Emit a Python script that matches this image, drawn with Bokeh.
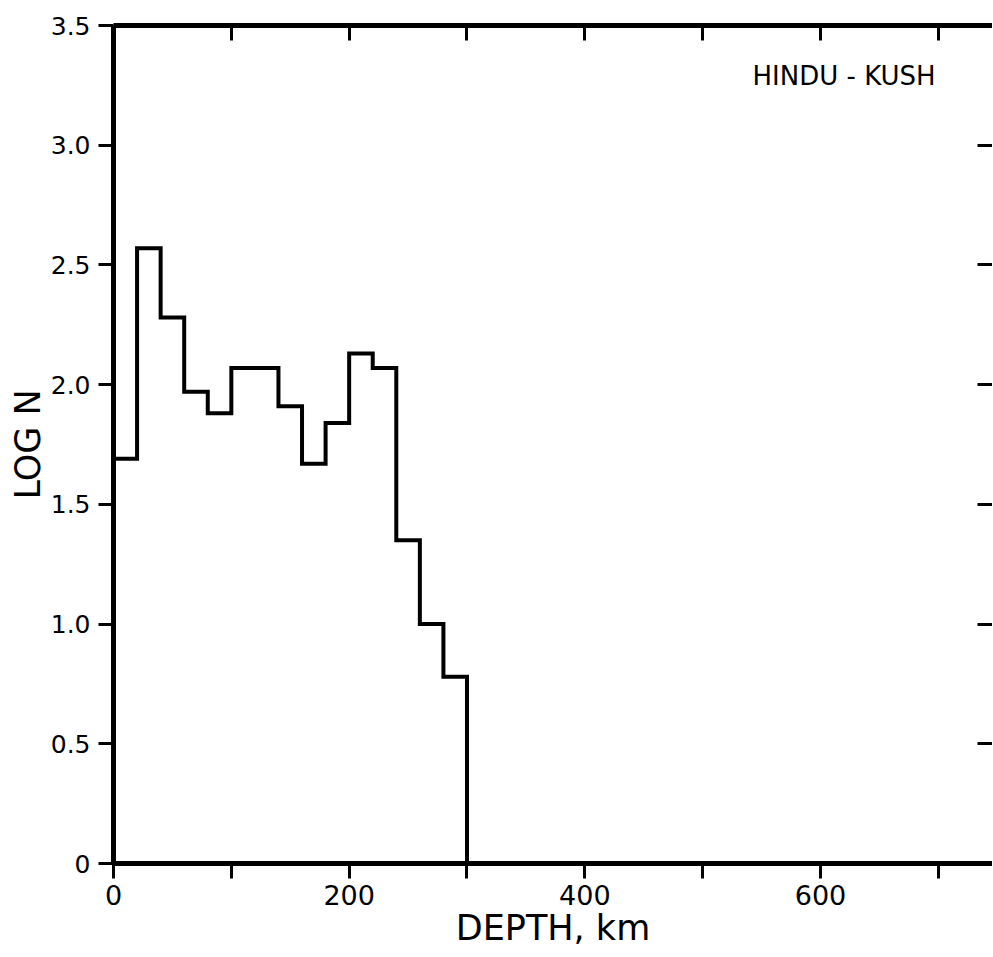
from bokeh.plotting import figure
from bokeh.models import LinearAxis, FixedTicker, Range1d, Label
from bokeh.embed import file_html
from bokeh.resources import INLINE

# Histogram of earthquake depths (20 km bins), log10 of count
bin_edges = [0, 20, 40, 60, 80, 100, 120, 140, 160, 180, 200, 220, 240, 260, 280, 300]
log_n = [1.69, 2.57, 2.28, 1.97, 1.88, 2.07, 2.07, 1.91, 1.67, 1.84, 2.13, 2.07, 1.35, 1.00, 0.78]

x_ticks = [0, 100, 200, 300, 400, 500, 600, 700]
x_tick_labels = ["0", "", "200", "", "400", "", "600", ""]
y_ticks = [0, 0.5, 1.0, 1.5, 2.0, 2.5, 3.0, 3.5]
y_tick_labels = ["0", "0.5", "1.0", "1.5", "2.0", "2.5", "3.0", "3.5"]

FONT = "DejaVu Sans"

p = figure(width=992, height=957,
           x_range=Range1d(0, 746), y_range=Range1d(0, 3.5),
           output_backend="svg", toolbar_location=None,
           x_axis_location=None, y_axis_location=None,
           min_border_left=113, min_border_top=25, min_border_right=0, min_border_bottom=94)
p.xgrid.visible = False
p.ygrid.visible = False
p.outline_line_color = None
p.background_fill_color = "white"
p.border_fill_color = "white"

# step outline of histogram
xs = list(bin_edges)
ys = list(log_n) + [0]
p.step(xs, ys, mode="after", line_color="black", line_width=4, line_join="miter")

common = dict(axis_line_color="black", axis_line_width=5,
              major_tick_line_color="black", major_tick_line_width=3,
              minor_tick_line_color=None)

bottom = LinearAxis(ticker=FixedTicker(ticks=x_ticks),
                    major_label_overrides=dict(zip(x_ticks, x_tick_labels)),
                    major_tick_in=0, major_tick_out=15, major_label_standoff=6,
                    major_label_text_font=FONT, major_label_text_font_size="27px",
                    major_label_text_color="black",
                    axis_label="DEPTH, km", axis_label_text_font=FONT,
                    axis_label_text_font_size="35px", axis_label_text_font_style="normal",
                    axis_label_text_color="black", axis_label_standoff=0, **common)
p.add_layout(bottom, "below")

left = LinearAxis(ticker=FixedTicker(ticks=y_ticks),
                  major_label_overrides=dict(zip(y_ticks, y_tick_labels)),
                  major_tick_in=0, major_tick_out=15, major_label_standoff=8,
                  major_label_text_font=FONT, major_label_text_font_size="25px",
                  major_label_text_color="black",
                  axis_label="LOG N", axis_label_text_font=FONT,
                  axis_label_text_font_size="35px", axis_label_text_font_style="normal",
                  axis_label_text_color="black", axis_label_standoff=0, **common)
p.add_layout(left, "left")

top = LinearAxis(ticker=FixedTicker(ticks=x_ticks),
                 major_label_overrides={t: "" for t in x_ticks},
                 major_label_text_font_size="0px", major_label_standoff=0,
                 major_tick_in=15, major_tick_out=0, **common)
p.add_layout(top, "above")

right = LinearAxis(ticker=FixedTicker(ticks=y_ticks),
                   major_label_overrides={t: "" for t in y_ticks},
                   major_label_text_font_size="0px", major_label_standoff=0,
                   major_tick_in=15, major_tick_out=0,
                   axis_line_color=None, major_tick_line_color="black",
                   major_tick_line_width=3, minor_tick_line_color=None)
p.add_layout(right, "right")

p.add_layout(Label(x=620, y=3.29, text="HINDU - KUSH", text_align="center",
                   text_baseline="middle", text_font=FONT, text_font_size="26px",
                   text_color="black"))

open("out.html", "w").write(file_html(p, INLINE))
